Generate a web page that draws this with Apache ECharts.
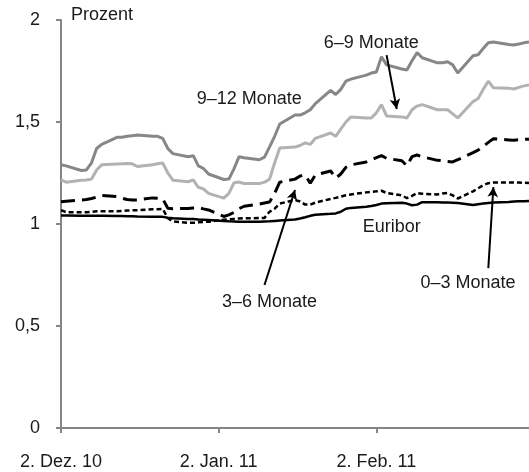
<!DOCTYPE html>
<html>
<head>
<meta charset="utf-8">
<script src="https://cdn.jsdelivr.net/npm/echarts@6/dist/echarts.min.js"></script>
<style>
  html, body { margin: 0; padding: 0; background: #fff; }
  #chart { width: 529px; height: 472px; }
</style>
</head>
<body>
<div id="chart"></div>
<script>
  // Handelstage, 2. Dez. 2010 bis 4. März 2011
  const dates = [
    '2010-12-02', '2010-12-03',
    '2010-12-06', '2010-12-07', '2010-12-08', '2010-12-09', '2010-12-10',
    '2010-12-13', '2010-12-14', '2010-12-15', '2010-12-16', '2010-12-17',
    '2010-12-20', '2010-12-21', '2010-12-22', '2010-12-23', '2010-12-24',
    '2010-12-27', '2010-12-28', '2010-12-29', '2010-12-30', '2010-12-31',
    '2011-01-03', '2011-01-04', '2011-01-05', '2011-01-06', '2011-01-07',
    '2011-01-10', '2011-01-11', '2011-01-12', '2011-01-13', '2011-01-14',
    '2011-01-17', '2011-01-18', '2011-01-19', '2011-01-20', '2011-01-21',
    '2011-01-24', '2011-01-25', '2011-01-26', '2011-01-27', '2011-01-28',
    '2011-01-31', '2011-02-01', '2011-02-02', '2011-02-03', '2011-02-04',
    '2011-02-07', '2011-02-08', '2011-02-09', '2011-02-10', '2011-02-11',
    '2011-02-14', '2011-02-15', '2011-02-16', '2011-02-17', '2011-02-18',
    '2011-02-21', '2011-02-22', '2011-02-23', '2011-02-24', '2011-02-25',
    '2011-02-28', '2011-03-01', '2011-03-02', '2011-03-03', '2011-03-04'
  ]

  const nineTwelve = [1.29, 1.285,
    1.262, 1.265, 1.30, 1.37, 1.39,
    1.425, 1.425, 1.43, 1.433, 1.436,
    1.43, 1.43, 1.42, 1.37, 1.345,
    1.33, 1.335, 1.285, 1.272, 1.245,
    1.218, 1.22, 1.27, 1.33, 1.325,
    1.315, 1.328, 1.378, 1.43, 1.49,
    1.534, 1.534, 1.545, 1.56, 1.59,
    1.655, 1.635, 1.66, 1.70, 1.71,
    1.73, 1.74, 1.745, 1.82, 1.78,
    1.76, 1.755, 1.80, 1.84, 1.815,
    1.79, 1.79, 1.795, 1.78, 1.74,
    1.825, 1.83, 1.86, 1.888, 1.892,
    1.88, 1.877, 1.882, 1.888, 1.892]

  const sixNine = [1.216, 1.205,
    1.214, 1.216, 1.22, 1.265, 1.29,
    1.294, 1.295, 1.297, 1.295, 1.282,
    1.29, 1.295, 1.299, 1.25, 1.215,
    1.207, 1.216, 1.18, 1.172, 1.15,
    1.127, 1.15, 1.202, 1.206, 1.198,
    1.198, 1.205, 1.22, 1.30, 1.373,
    1.377, 1.385, 1.398, 1.39, 1.42,
    1.446, 1.43, 1.465, 1.50, 1.525,
    1.52, 1.52, 1.545, 1.585, 1.53,
    1.525, 1.52, 1.56, 1.578, 1.585,
    1.56, 1.56, 1.56, 1.54, 1.52,
    1.6, 1.615, 1.66, 1.7, 1.668,
    1.666, 1.662, 1.67, 1.677, 1.681]

  const threeSix = [1.109, 1.112,
    1.118, 1.12, 1.125, 1.132, 1.14,
    1.134, 1.126, 1.12, 1.118, 1.118,
    1.128, 1.126, 1.123, 1.077, 1.075,
    1.076, 1.078, 1.08, 1.074, 1.069,
    1.037, 1.045, 1.057, 1.075, 1.087,
    1.098, 1.103, 1.108, 1.15, 1.205,
    1.22, 1.235, 1.24, 1.20, 1.24,
    1.26, 1.225, 1.245, 1.278, 1.29,
    1.304, 1.315, 1.325, 1.335, 1.322,
    1.31, 1.285, 1.33, 1.338, 1.33,
    1.312, 1.31, 1.306, 1.304, 1.315,
    1.35, 1.362, 1.38, 1.40, 1.418,
    1.412, 1.41, 1.413, 1.415, 1.416]

  const zeroThree = [1.068, 1.058,
    1.057, 1.058, 1.06, 1.062, 1.062,
    1.062, 1.064, 1.066, 1.067, 1.068,
    1.072, 1.072, 1.074, 1.028, 1.013,
    1.006, 1.006, 1.008, 1.01, 1.011,
    1.021, 1.023, 1.025, 1.027, 1.028,
    1.029, 1.03, 1.06, 1.075, 1.1,
    1.118, 1.11, 1.095, 1.095, 1.105,
    1.123, 1.128, 1.134, 1.141, 1.145,
    1.155, 1.158, 1.16, 1.163, 1.152,
    1.14, 1.127, 1.138, 1.152, 1.148,
    1.145, 1.15, 1.152, 1.14, 1.125,
    1.16, 1.175, 1.19, 1.2, 1.203,
    1.204, 1.204, 1.203, 1.202, 1.201]

  const euribor = [1.042, 1.042,
    1.041, 1.041, 1.04, 1.04, 1.04,
    1.039, 1.039, 1.038, 1.038, 1.037,
    1.036, 1.035, 1.035, 1.031, 1.028,
    1.025, 1.024, 1.022, 1.021, 1.02,
    1.015, 1.013, 1.012, 1.011, 1.011,
    1.011, 1.012, 1.013, 1.015, 1.017,
    1.022, 1.027, 1.033, 1.04, 1.045,
    1.05, 1.052, 1.06, 1.075, 1.079,
    1.085, 1.088, 1.093, 1.1, 1.102,
    1.104, 1.1, 1.092, 1.095, 1.107,
    1.107, 1.106, 1.105, 1.104, 1.103,
    1.093, 1.097, 1.1, 1.103, 1.105,
    1.108, 1.11, 1.111, 1.112, 1.113]

  const tickDates = ['2010-12-02', '2011-01-02', '2011-02-02']
  const tickLabels = ['2. Dez. 10', '2. Jan. 11', '2. Feb. 11']
  const lastDate = '2011-03-04'

  // Beschriftungen: [Text, Datum, Wert]
  const notes = [
    ['9–12 Monate', '2011-01-08', 1.613],
    ['6–9 Monate', '2011-02-01', 1.887],
    ['Euribor', '2011-02-05', 0.985],
    ['3–6 Monate', '2011-01-12', 0.618],
    ['0–3 Monate', '2011-02-20', 0.711]
  ]
  // Pfeile: [von Datum, von Wert, nach Datum, nach Wert]
  const arrows = [
    ['2011-02-04', 1.828, '2011-02-06', 1.564],
    ['2011-01-11', 0.701, '2011-01-17', 1.167],
    ['2011-02-24', 0.784, '2011-02-25', 1.181]
  ]

  const DAY = 24 * 3600 * 1000
  const t0 = Date.parse(dates[0])
  const dayOf = s => Math.round((Date.parse(s) - t0) / DAY)
  const days = dates.map(dayOf)
  const tickDays = tickDates.map(dayOf)
  const pairs = vals => vals.map((v, i) => [days[i], v])

  const font = 'Liberation Sans, Arial, Helvetica, sans-serif'
  const textColor = '#1a1a1a'
  const axisColor = '#868686'

  const lineSeries = (name, vals, color, width, type) => ({
    name: name,
    type: 'line',
    data: pairs(vals),
    showSymbol: false,
    symbol: 'none',
    silent: true,
    animation: false,
    lineStyle: { color: color, width: width, type: type }
  })

  const chart = echarts.init(document.getElementById('chart'))
  const option = {
    animation: false,
    textStyle: { fontFamily: font },
    grid: { left: 61, right: 0, top: 20, bottom: 44, containLabel: false },
    xAxis: {
      type: 'value',
      min: 0,
      max: dayOf(lastDate),
      splitLine: { show: false },
      axisLine: { show: true, lineStyle: { color: axisColor, width: 2 } },
      axisTick: { show: true, length: 5, customValues: tickDays, lineStyle: { color: axisColor, width: 2 } },
      axisLabel: {
        customValues: tickDays,
        margin: 25,
        fontSize: 18,
        color: textColor,
        fontFamily: font,
        formatter: v => tickLabels[tickDays.indexOf(v)] || ''
      }
    },
    yAxis: {
      type: 'value',
      min: 0,
      max: 2,
      interval: 0.5,
      name: 'Prozent',
      nameLocation: 'end',
      nameGap: 5,
      nameTextStyle: { align: 'left', verticalAlign: 'middle', padding: [0, 0, 0, 10], fontSize: 18, color: textColor, fontFamily: font },
      splitLine: { show: false },
      axisLine: { show: true, lineStyle: { color: axisColor, width: 2 } },
      axisTick: { show: true, length: 5, lineStyle: { color: axisColor, width: 2 } },
      axisLabel: {
        margin: 21,
        fontSize: 18,
        color: textColor,
        fontFamily: font,
        formatter: v => String(v).replace('.', ',')
      }
    },
    series: [
      lineSeries('9–12 Monate', nineTwelve, '#878787', 3, 'solid'),
      lineSeries('6–9 Monate', sixNine, '#b2b2b2', 3, 'solid'),
      lineSeries('3–6 Monate', threeSix, '#000', 3, [14, 7]),
      lineSeries('0–3 Monate', zeroThree, '#000', 2.5, [5, 3]),
      Object.assign(lineSeries('Euribor', euribor, '#000', 2.5, 'solid'), {
        markLine: {
          silent: true,
          animation: false,
          symbol: ['none', 'arrow'],
          symbolSize: [8, 10],
          label: { show: false },
          lineStyle: { color: '#000', width: 2, type: 'solid' },
          data: arrows.map(a => [
            { coord: [dayOf(a[0]), a[1]] },
            { coord: [dayOf(a[2]), a[3]] }
          ])
        }
      })
    ]
  }
  chart.setOption(option)

  const graphic = notes.map(n => {
    const p = chart.convertToPixel({ gridIndex: 0 }, [dayOf(n[1]), n[2]])
    return {
      type: 'text',
      x: p[0],
      y: p[1],
      silent: true,
      style: {
        text: n[0],
        fill: textColor,
        font: '18px ' + font,
        align: 'center',
        verticalAlign: 'middle'
      }
    }
  })
  chart.setOption({ graphic: graphic })
</script>
</body>
</html>
